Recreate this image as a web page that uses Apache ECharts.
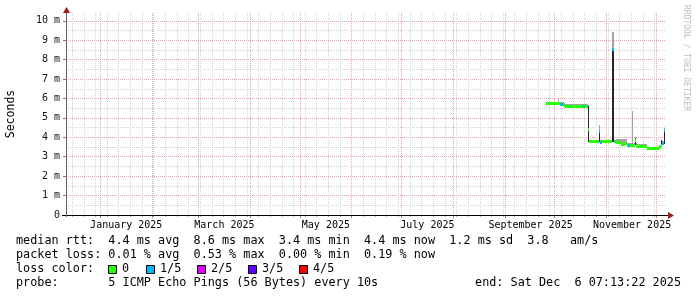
<!DOCTYPE html>
<html>
<head>
<meta charset="utf-8">
<script src="https://cdn.jsdelivr.net/npm/echarts@6/dist/echarts.min.js"></script>
<style>html,body{margin:0;padding:0;background:#fff}#c{width:697px;height:297px}</style>
</head>
<body>
<div id="c"></div>
<script>
// ---------------- data ----------------
const DAY = 86400000;
const END = Date.UTC(2025, 11, 6, 7, 13, 22);
const START = END - 360 * DAY;
const BASE = Date.UTC(2025, 0, 1);

// segment start (days since 2025-01-01), each segment ends where the next starts
const segStartDay = [267.8, 275.0, 275.6, 276.3, 278.0, 278.7, 279.3, 290.0, 291.0, 292.9, 293.4, 299.4, 300.1, 301.5, 307.7, 308.5, 309.2, 310.0, 312.8, 315.0, 316.6, 317.3, 318.5, 319.6, 320.1, 321.0, 321.7, 322.6, 328.6, 335.8, 336.6, 337.4, 338.6];
const segEndDay = 339.3;
// median rtt (ms)
const medianMs = [5.76, 5.77, 5.76, 5.74, 5.74, 5.68, 5.62, 5.62, 5.62, 4.45, 3.80, 4.30, 3.78, 3.80, 8.55, 3.80, 3.80, 3.74, 3.67, 3.72, 3.62, 3.62, 3.62, 3.62, 3.62, 3.85, 3.62, 3.57, 3.45, 3.52, 3.62, 3.70, 4.40];
// lost pings out of 5
const lossCount = [0, 0, 0, 1, 0, 0, 0, 1, 0, 0, 0, 1, 1, 0, 1, 1, 0, 0, 0, 0, 0, 1, 0, 0, 0, 0, 0, 0, 0, 0, 0, 1, 1];
// outer smoke (ms)
const smokeHiMs = [5.84, 5.95, 5.84, 5.82, 5.82, 5.76, 5.72, 5.72, 5.72, 5.66, 3.88, 4.64, 3.86, 3.88, 9.42, 3.88, 3.88, 3.92, 3.90, 3.90, 3.70, 3.70, 3.70, 5.33, 3.70, 4.00, 3.70, 3.65, 3.52, 3.60, 3.88, 3.80, 4.46];
const smokeLoMs = [5.71, 5.71, 5.71, 5.69, 5.69, 5.63, 5.57, 5.57, 5.57, 3.78, 3.75, 3.76, 3.73, 3.75, 3.76, 3.75, 3.75, 3.69, 3.62, 3.67, 3.57, 3.57, 3.57, 3.57, 3.57, 3.58, 3.57, 3.52, 3.40, 3.47, 3.52, 3.65, 3.68];
// inner (dark) smoke, null where none visible
const innerLoMs = [null, null, null, null, null, null, null, null, null, 3.78, null, 3.78, null, null, 3.78, null, null, null, null, null, null, null, null, null, null, 3.58, null, null, null, null, 3.52, null, 3.68];
const innerHiMs = [null, null, null, null, null, null, null, null, null, 5.62, null, 4.36, null, null, 8.60, null, null, null, null, null, null, null, null, null, null, 3.95, null, null, null, null, 3.87, null, 4.42];

// ticks / labels
const yMajorTicks = [0, 1, 2, 3, 4, 5, 6, 7, 8, 9, 10];
const yMinorTicks = [0.5, 1.5, 2.5, 3.5, 4.5, 5.5, 6.5, 7.5, 8.5, 9.5];
const Y_MAX = 10.4;
const monthNames = ['January', 'February', 'March', 'April', 'May', 'June', 'July', 'August', 'September', 'October', 'November', 'December'];
const labelMonths = [0, 2, 4, 6, 8, 10];
const firstSunday = Date.UTC(2024, 11, 15);

const lossLabels = ['0', '1/5', '2/5', '3/5', '4/5'];
const lossColors = ['#26ff00', '#00b8ff', '#dd00ff', '#5e00ff', '#ff0000'];

const line1 = 'median rtt:  4.4 ms avg  8.6 ms max  3.4 ms min  4.4 ms now  1.2 ms sd  3.8   am/s';
const line2 = 'packet loss: 0.01 % avg  0.53 % max  0.00 % min  0.19 % now';
const line3 = 'loss color:';
const line4 = 'probe:       5 ICMP Echo Pings (56 Bytes) every 10s';
const endText = 'end: Sat Dec  6 07:13:22 2025';

// ---------------- derived ----------------
const dayMs = d => BASE + d * DAY;
const segT0 = segStartDay.map(dayMs);
const segT1 = segStartDay.map((d, i) => dayMs(i + 1 < segStartDay.length ? segStartDay[i + 1] : segEndDay));

const weekTicks = [];
for (let t = firstSunday; t <= END; t += 7 * DAY) weekTicks.push(t);
const monthTicks = [];
for (let m = 0; m < 12; m++) monthTicks.push(Date.UTC(2025, m, 1));
const labelTicks = labelMonths.map(m => Date.UTC(2025, m, 1) + 15.5 * DAY);

const smokeData = segT0.map((t, i) => [t, segT1[i], smokeLoMs[i], smokeHiMs[i]]);
const innerData = [];
segT0.forEach((t, i) => { if (innerHiMs[i] != null) innerData.push([t, segT1[i], innerLoMs[i], innerHiMs[i]]); });
const medianData = segT0.map((t, i) => [t, segT1[i], medianMs[i], lossCount[i]]);

// ---------------- layout ----------------
const GL = 66, GT = 13, GW = 599, GH = 202;
const MONO = '"DejaVu Sans Mono", monospace';

function spanRect(api, color) {
  const a = api.coord([api.value(0), api.value(3)]);
  const b = api.coord([api.value(1), api.value(2)]);
  let x0 = Math.round(a[0]), x1 = Math.round(b[0]);
  if (x1 <= x0) x1 = x0 + 1;
  let y0 = Math.round(a[1]), y1 = Math.round(b[1]);
  if (y1 <= y0) y1 = y0 + 1;
  return { type: 'rect', shape: { x: x0, y: y0, width: x1 - x0, height: y1 - y0 }, style: { fill: color } };
}

const chart = echarts.init(document.getElementById('c'), null, { renderer: 'canvas' });

const legendBoxX = [108, 146, 197, 248, 299];
const graphics = [];
// axis lines & arrows
graphics.push({ type: 'line', z: 50, shape: { x1: 62, y1: GT + GH + 0.5, x2: GL + GW + 3, y2: GT + GH + 0.5 }, style: { stroke: '#000', lineWidth: 1 } });
graphics.push({ type: 'line', z: 50, shape: { x1: GL + 0.5, y1: GT + GH + 2, x2: GL + 0.5, y2: GT - 1 }, style: { stroke: '#606060', lineWidth: 1 } });
graphics.push({ type: 'polygon', z: 51, shape: { points: [[GL + GW + 3, GT + GH - 3], [GL + GW + 9, GT + GH + 0.5], [GL + GW + 3, GT + GH + 4]] }, style: { fill: '#9b1c1c' } });
graphics.push({ type: 'polygon', z: 51, shape: { points: [[GL - 3, GT], [GL + 0.5, GT - 6], [GL + 4, GT]] }, style: { fill: '#9b1c1c' } });
// texts
const txt = (x, y, s, size, align) => ({ type: 'text', x, y, z: 60, style: { text: s, font: size + 'px ' + MONO, fill: '#000', textVerticalAlign: 'middle', verticalAlign: 'middle', textAlign: align || 'left', align: align || 'left' } });
graphics.push(txt(16, 241, line1, 11.8));
graphics.push(txt(16, 255, line2, 11.8));
graphics.push(txt(16, 269, line3, 11.8));
graphics.push(txt(16, 283, line4, 11.8));
graphics.push(txt(681, 283, endText, 11.8, 'right'));
lossLabels.forEach((lab, i) => {
  graphics.push({ type: 'rect', z: 60, shape: { x: legendBoxX[i] + 0.5, y: 265.5, width: 8, height: 8 }, style: { fill: lossColors[i], stroke: '#000', lineWidth: 1 } });
  graphics.push(txt(legendBoxX[i] + 14, 269, lab, 11.8));
});
graphics.push({ type: 'text', x: 11, y: GT + GH / 2, rotation: Math.PI / 2, z: 60, style: { text: 'Seconds', font: '11.5px ' + MONO, fill: '#000', textAlign: 'center', align: 'center', textVerticalAlign: 'middle', verticalAlign: 'middle' } });
graphics.push({ type: 'text', x: 686, y: 5, rotation: -Math.PI / 2, z: 60, style: { text: 'RRDTOOL / TOBI OETIKER', font: '8px ' + MONO, fill: '#bdbdbd', textAlign: 'left', align: 'left', textVerticalAlign: 'middle', verticalAlign: 'middle' } });

const option = {
  animation: false,
  backgroundColor: '#ffffff',
  grid: { left: GL, top: GT, width: GW, height: GH, containLabel: false },
  xAxis: [
    {
      type: 'value', min: START, max: END, position: 'bottom',
      axisLine: { show: false },
      axisTick: { show: true, customValues: weekTicks, length: 2, lineStyle: { color: '#b0b0b0' } },
      axisLabel: { show: false },
      splitLine: { show: true, lineStyle: { color: '#d2d2d2', type: [1, 1], width: 1 } }
    },
    {
      type: 'value', min: START, max: END, position: 'bottom',
      axisLine: { show: false },
      axisTick: { show: true, customValues: monthTicks, length: 3, lineStyle: { color: '#e07070' } },
      axisLabel: {
        show: true, customValues: labelTicks, margin: 5, color: '#000', fontFamily: MONO, fontSize: 10,
        formatter: v => { const d = new Date(v); return monthNames[d.getUTCMonth()] + ' ' + d.getUTCFullYear(); }
      },
      splitLine: { show: true, lineStyle: { color: '#f0a0a0', type: [1, 1], width: 1 } }
    }
  ],
  yAxis: [
    {
      type: 'value', min: 0, max: Y_MAX, position: 'left',
      axisLine: { show: false },
      axisTick: { show: false, customValues: yMinorTicks },
      axisLabel: { show: false, customValues: yMinorTicks },
      splitLine: { show: true, lineStyle: { color: '#d2d2d2', type: [1, 1], width: 1 } }
    },
    {
      type: 'value', min: 0, max: Y_MAX, position: 'left',
      axisLine: { show: false },
      axisTick: { show: true, customValues: yMajorTicks, length: 3, lineStyle: { color: '#808080' } },
      axisLabel: {
        show: true, customValues: yMajorTicks, margin: 6, color: '#111', fontFamily: MONO, fontSize: 10,
        formatter: v => v === 0 ? '0' : v + ' m'
      },
      splitLine: { show: true, lineStyle: { color: '#f0a0a0', type: [1, 1], width: 1 } }
    }
  ],
  series: [
    {
      type: 'custom', name: 'smoke', xAxisIndex: 0, yAxisIndex: 0, z: 3,
      encode: { x: [0, 1], y: [2, 3] }, data: smokeData,
      renderItem: (p, api) => spanRect(api, '#a3a3a3')
    },
    {
      type: 'custom', name: 'inner', xAxisIndex: 0, yAxisIndex: 0, z: 4,
      encode: { x: [0, 1], y: [2, 3] }, data: innerData,
      renderItem: (p, api) => spanRect(api, '#262626')
    },
    {
      type: 'custom', name: 'median', xAxisIndex: 0, yAxisIndex: 0, z: 5,
      encode: { x: [0, 1], y: 2 }, data: medianData,
      renderItem: (p, api) => {
        const a = api.coord([api.value(0), api.value(2)]);
        const b = api.coord([api.value(1), api.value(2)]);
        let x0 = Math.round(a[0]), x1 = Math.round(b[0]);
        if (x1 <= x0) x1 = x0 + 1;
        const y = Math.round(a[1]);
        return { type: 'rect', shape: { x: x0, y: y - 1, width: x1 - x0, height: 3 }, style: { fill: lossColors[api.value(3)] } };
      }
    }
  ],
  graphic: graphics
};
chart.setOption(option);
</script>
</body>
</html>
